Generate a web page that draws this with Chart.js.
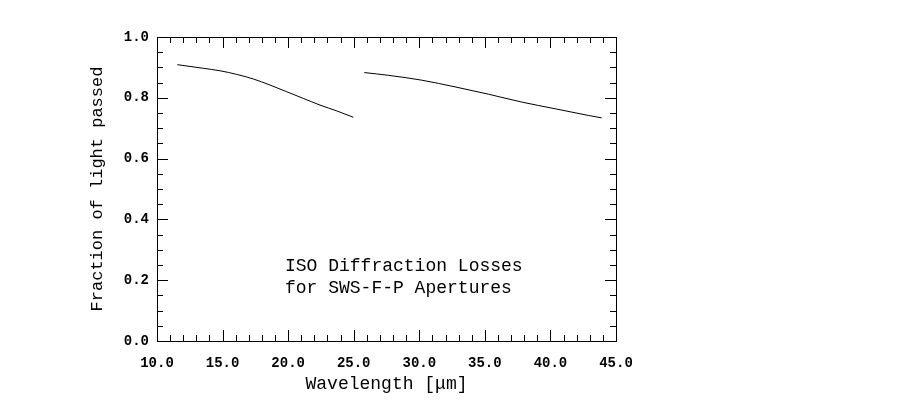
<!DOCTYPE html>
<html>
<head>
<meta charset="utf-8">
<script src="https://cdn.jsdelivr.net/npm/chart.js@4"></script>
<style>
  html, body { margin: 0; padding: 0; background: #fff; overflow: hidden; }
  canvas { display: block; }
</style>
</head>
<body>
<canvas id="chart" width="923" height="410"></canvas>
<script>
// short-wavelength segment
const wave1 = [11.55, 13.53, 14.80, 16.08, 17.34, 18.62, 19.89, 21.16, 22.43, 23.70, 24.97];
const frac1 = [0.909, 0.897, 0.889, 0.877, 0.862, 0.842, 0.820, 0.798, 0.776, 0.757, 0.736];
// long-wavelength segment
const wave2 = [25.81, 27.64, 30.18, 32.72, 35.26, 37.81, 40.35, 42.89, 43.91];
const frac2 = [0.883, 0.874, 0.858, 0.836, 0.812, 0.786, 0.764, 0.742, 0.734];

const xTicks = [10, 15, 20, 25, 30, 35, 40, 45];
const yTicks = [0.0, 0.2, 0.4, 0.6, 0.8, 1.0];
const noteLines = ['ISO Diffraction Losses', 'for SWS-F-P Apertures'];

const FONT = "'Liberation Mono', 'DejaVu Sans Mono', monospace";

const toPoints = (xs, ys) => xs.map((x, i) => ({ x: x, y: ys[i] }));

// frame, inward ticks on all four sides, and the caption
const framePlugin = {
  id: 'frame',
  afterDraw(chart) {
    const ctx = chart.ctx;
    const a = chart.chartArea;
    const xs = chart.scales.x, ys = chart.scales.y;
    ctx.save();
    ctx.strokeStyle = '#000';
    ctx.lineWidth = 1;
    ctx.strokeRect(a.left + 0.5, a.top + 0.5, a.right - a.left, a.bottom - a.top);
    ctx.beginPath();
    for (let v = xs.min; v <= xs.max + 1e-9; v += 1) {
      const px = Math.round(xs.getPixelForValue(v)) + 0.5;
      const len = Math.abs(v % 5) < 1e-9 ? 11 : 6;
      ctx.moveTo(px, a.bottom); ctx.lineTo(px, a.bottom - len);
      ctx.moveTo(px, a.top); ctx.lineTo(px, a.top + len);
    }
    for (let i = 0; i <= 20; i++) {
      const v = i * 0.05;
      const py = Math.round(ys.getPixelForValue(v)) + 0.5;
      const len = i % 4 === 0 ? 11 : 6;
      ctx.moveTo(a.left, py); ctx.lineTo(a.left + len, py);
      ctx.moveTo(a.right, py); ctx.lineTo(a.right - len, py);
    }
    ctx.stroke();

    ctx.fillStyle = '#000';
    ctx.font = '18px ' + FONT;
    ctx.textBaseline = 'alphabetic';
    ctx.textAlign = 'left';
    const tx = xs.getPixelForValue(19.76);
    ctx.fillText(noteLines[0], tx, ys.getPixelForValue(0.230));
    ctx.fillText(noteLines[1], tx, ys.getPixelForValue(0.158));
    ctx.restore();
  }
};

const lineStyle = {
  borderColor: '#000',
  borderWidth: 1,
  pointRadius: 0,
  fill: false,
  cubicInterpolationMode: 'monotone'
};

new Chart(document.getElementById('chart').getContext('2d'), {
  type: 'line',
  data: {
    datasets: [
      Object.assign({ label: 'segment 1', data: toPoints(wave1, frac1) }, lineStyle),
      Object.assign({ label: 'segment 2', data: toPoints(wave2, frac2) }, lineStyle)
    ]
  },
  options: {
    responsive: false,
    animation: false,
    devicePixelRatio: 1,
    layout: { padding: { left: 0, top: 37, right: 307, bottom: 0 } },
    plugins: {
      legend: { display: false },
      tooltip: { enabled: false }
    },
    scales: {
      x: {
        type: 'linear',
        min: 10,
        max: 45,
        afterBuildTicks(scale) { scale.ticks = xTicks.map(v => ({ value: v })); },
        afterFit(scale) { scale.height = 69; },
        grid: { display: false, drawTicks: false },
        border: { display: false },
        ticks: {
          color: '#000',
          padding: 14,
          maxRotation: 0,
          font: { family: FONT, size: 14, weight: 'bold' },
          callback: v => v.toFixed(1)
        },
        title: {
          display: true,
          text: 'Wavelength [\u03bcm]',
          color: '#000',
          font: { family: FONT, size: 18 },
          padding: { top: 0, bottom: 15 }
        }
      },
      y: {
        type: 'linear',
        min: 0,
        max: 1,
        afterBuildTicks(scale) { scale.ticks = yTicks.map(v => ({ value: v })); },
        afterFit(scale) { scale.width = 157; },
        grid: { display: false, drawTicks: false },
        border: { display: false },
        ticks: {
          color: '#000',
          padding: 8,
          font: { family: FONT, size: 14, weight: 'bold' },
          callback: v => v.toFixed(1)
        },
        title: {
          display: true,
          text: 'Fraction of light passed',
          color: '#000',
          font: { family: FONT, size: 17 },
          padding: { top: 87, bottom: 0 }
        }
      }
    }
  },
  plugins: [framePlugin]
});
</script>
</body>
</html>
